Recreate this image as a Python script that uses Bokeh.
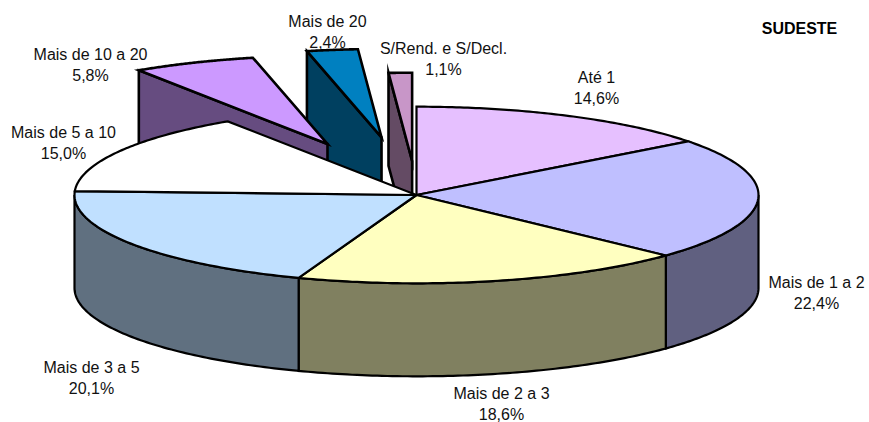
import numpy as np
from bokeh.plotting import figure
from bokeh.models import ColumnDataSource
from bokeh.core.properties import value
from bokeh.embed import file_html
from bokeh.resources import INLINE

categories = ["Até 1", "Mais de 1 a 2", "Mais de 2 a 3", "Mais de 3 a 5",
              "Mais de 5 a 10", "Mais de 10 a 20", "Mais de 20", "S/Rend. e S/Decl."]
shares = [14.6, 22.4, 18.6, 20.1, 15.0, 5.8, 2.4, 1.1]
explode_x = [0, 0, 0, 0, 0, 0.665, 0.71, 0.37]
explode_y = [0, 0, 0, 0, 0, 0.628, 0.66, 0.385]
top_colors = ["#E6C0FF", "#BFBFFF", "#FFFFC0", "#C0E0FF", "#FFFFFF", "#CC99FF", "#0080C0", "#C896C8"]
side_colors = ["#736080", "#606080", "#808060", "#607080", "#808080", "#664C80", "#004060", "#644B64"]
label_x = [596, 816, 501, 91, 63, 90, 327, 443]
label_y = [77, 282, 393, 367, 132, 54, 21, 48]
title = "SUDESTE"

CX, CY, RX, RY, DEPTH = 416.0, 194.5, 342.0, 88.3, 93.0
W, H = 869, 422

edges = np.radians(np.concatenate([[0], np.cumsum(shares)]) * 3.6)


def ell(t, dx=0.0, dy=0.0):
    return CX + dx + RX * np.sin(t), CY + dy - RY * np.cos(t)


def offset(i):
    mid = (edges[i] + edges[i + 1]) / 2
    return explode_x[i] * RX * np.sin(mid), -explode_y[i] * RY * np.cos(mid)


def top_face(i):
    dx, dy = offset(i)
    x, y = ell(np.linspace(edges[i], edges[i + 1], 80), dx, dy)
    return [CX + dx, *x], [CY + dy, *y]


def radial_wall(i, t):
    dx, dy = offset(i)
    x, y = ell(t, dx, dy)
    a, b = CX + dx, CY + dy
    return [a, x, x, a], [b, y, y + DEPTH, b + DEPTH]


def outer_wall(i):
    lo, hi = max(edges[i], np.pi / 2), min(edges[i + 1], 3 * np.pi / 2)
    if hi <= lo:
        return None
    x, y = ell(np.linspace(lo, hi, 80))
    return [*x, *x[::-1]], [*y, *(y[::-1] + DEPTH)]


xs, ys, fills, widths = [], [], [], []


def add(poly, color, lw):
    xs.append(list(poly[0]))
    ys.append(list(poly[1]))
    fills.append(color)
    widths.append(lw)


# exploded slices, back to front
for i in (7, 6, 5):
    add(radial_wall(i, edges[i]), side_colors[i], 2.6)
    add(top_face(i), top_colors[i], 2.6)
# main pie: walls, then tops
for i in range(5):
    w = outer_wall(i)
    if w:
        add(w, side_colors[i], 2.2)
for i in range(5):
    add(top_face(i), top_colors[i], 2.2)

p = figure(width=W, height=H, x_range=(0, W), y_range=(H, 0),
           toolbar_location=None, output_backend="svg", min_border=0,
           outline_line_color=None, background_fill_color="white")
p.axis.visible = False
p.grid.visible = False

poly_src = ColumnDataSource(dict(xs=xs, ys=ys, fill=fills, lw=widths))
p.patches("xs", "ys", source=poly_src, fill_color="fill", line_color="black",
          line_width="lw", line_join="miter")

fmt = [f"{v:.1f}%".replace(".", ",") for v in shares]
src = ColumnDataSource(dict(x=label_x, y=label_y, name=categories, pct=fmt,
                            y2=[v + 21 for v in label_y]))
font = value("Liberation Sans")
p.text("x", "y", text="name", source=src, text_font=font, text_font_size="16px",
       text_color="#111111", text_align="center", text_baseline="middle")
p.text("x", "y2", text="pct", source=src, text_font=font, text_font_size="16px",
       text_color="#111111", text_align="center", text_baseline="middle")
p.text([799], [28], text=[title], text_font=value("Liberation Sans"), text_font_size="16px",
       text_font_style="bold", text_color="black", text_align="center", text_baseline="middle")

open("out.html", "w").write(file_html(p, INLINE))
